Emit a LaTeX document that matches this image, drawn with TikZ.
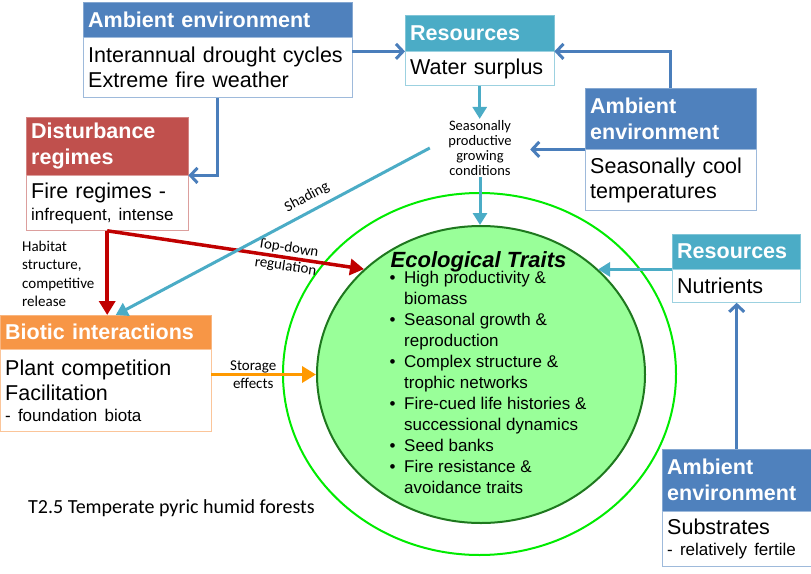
\documentclass[tikz,border=0pt]{standalone}
\usepackage{fontspec}
\setmainfont{Liberation Sans}
\newfontfamily\calfont{Carlito}
\usetikzlibrary{positioning,shapes.geometric,arrows.meta}
\definecolor{ambblue}{RGB}{79,129,189}
\definecolor{rescyan}{RGB}{75,172,198}
\definecolor{distred}{RGB}{192,80,77}
\definecolor{biotorange}{RGB}{247,150,70}
\definecolor{arrowblue}{RGB}{74,126,187}
\definecolor{arrowred}{RGB}{192,0,0}
\definecolor{arroworange}{RGB}{255,153,0}
\definecolor{traitfill}{RGB}{153,255,153}
\definecolor{traitline}{RGB}{30,120,30}
\definecolor{ringgreen}{RGB}{0,235,0}
\newcommand{\hdfont}{\fontsize{21.5}{26}\selectfont\bfseries}
\newcommand{\bdfont}{\fontsize{21.5}{25}\selectfont}
\newcommand{\smfont}{\fontsize{17}{21}\selectfont}
\newcommand{\lblfont}{\calfont\fontsize{15}{18.5}\selectfont}
\begin{document}
\begin{tikzpicture}[x=1pt, y=-1pt,
  hdr/.style={anchor=north west, fill=#1, draw=#1!70, text=white, font=\hdfont, align=left, inner xsep=5pt, inner ysep=0pt},
  bdy/.style={fill=white, draw=#1!55, font=\bdfont, align=left, inner xsep=5pt, inner ysep=0pt},
  lbl/.style={font=\lblfont, align=center, inner sep=1pt},
  blarrow/.style={draw=arrowblue, line width=3pt, -{Straight Barb[length=7pt,width=15pt]}},
  cyarrow/.style={draw=rescyan, line width=3pt, -{Triangle[length=12pt,width=14pt]}},
  redarrow/.style={draw=arrowred, line width=3.5pt, -{Triangle[length=14pt,width=16pt]}},
  orarrow/.style={draw=arroworange, line width=3.5pt, -{Triangle[length=14pt,width=16pt]}}]
  \useasboundingbox (0,0) rectangle (811,573);

  \node[ellipse, draw=ringgreen, line width=2pt, inner sep=0pt, minimum width=393pt, minimum height=362pt] (ring) at (479.5,374) {};
  \node[ellipse, draw=traitline, fill=traitfill, line width=2pt, inner sep=0pt, minimum width=328pt, minimum height=297pt] (eco) at (481,374.5) {};
  \node[anchor=base west, inner sep=0pt, font=\fontsize{22}{26}\selectfont\bfseries\itshape] (ecotitle) at (390.5,267) {Ecological Traits};
  \node[anchor=base west, inner sep=0pt, font=\smfont] (ecolist) at (389.5,283.3)
    {\begin{tabular}[t]{@{}p{14.5pt}@{}l@{}}
      • & High productivity \&\\ & biomass\\
      • & Seasonal growth \&\\ & reproduction\\
      • & Complex structure \&\\ & trophic networks\\
      • & Fire-cued life histories \&\\ & successional dynamics\\
      • & Seed banks\\
      • & Fire resistance \&\\ & avoidance traits
    \end{tabular}};

  \node[hdr=ambblue, text width=259pt, minimum height=35pt] (amb1h) at (83,2) {Ambient environment};
  \node[bdy=ambblue, text width=259pt, minimum height=60pt, below=0pt of amb1h] (amb1b) {Interannual drought cycles\\Extreme fire weather};

  \node[hdr=rescyan, text width=139pt, minimum height=36pt] (res1h) at (405,15) {Resources};
  \node[bdy=rescyan, text width=139pt, minimum height=34pt, below=0pt of res1h] (res1b) {Water surplus};

  \node[hdr=ambblue, text width=161pt, minimum height=61pt] (amb2h) at (585,88) {Ambient\\environment};
  \node[bdy=ambblue, text width=161pt, minimum height=61pt, below=0pt of amb2h] (amb2b) {Seasonally cool\\temperatures};

  \node[hdr=distred, text width=152pt, minimum height=58pt] (disth) at (26,117) {Disturbance\\regimes};
  \node[bdy=distred, text width=152pt, minimum height=55pt, below=0pt of disth] (distb) {Fire regimes -\\[-3pt]{\smfont infrequent, intense}};

  \node[hdr=biotorange, text width=201pt, minimum height=34pt] (biotich) at (0,315) {Biotic interactions};
  \node[bdy=biotorange, text width=201pt, minimum height=82pt, below=0pt of biotich] (biotb) {Plant competition\\Facilitation\\[-4pt]{\smfont - foundation biota}};

  \node[hdr=rescyan, text width=118pt, minimum height=35pt] (res2h) at (672,234) {Resources};
  \node[bdy=rescyan, text width=118pt, minimum height=33pt, below=0pt of res2h] (res2b) {Nutrients};

  \node[hdr=ambblue, text width=139pt, minimum height=62pt] (amb3h) at (662,449) {Ambient\\environment};
  \node[bdy=ambblue, text width=139pt, minimum height=55pt, below=0pt of amb3h] (amb3b) {Substrates\\[-4pt]{\smfont - relatively fertile}};

  \node[lbl, font=\calfont\fontsize{14.5}{15.2}\selectfont, minimum width=100pt] (cond) at (480,148) {Seasonally\\productive\\growing\\conditions};
  \node[lbl, anchor=west, align=left] (habitat) at (21,274) {Habitat\\structure,\\competitive\\release};
  \node[anchor=west, inner sep=0pt, font=\calfont\fontsize{20}{24}\selectfont] (title) at (28,508) {T2.5 Temperate pyric humid forests};

  \draw[blarrow] (amb1b.east |- res1h.south) -- (res1h.south west);
  \draw[blarrow] (amb2h.north) |- (res1h.south east);
  \draw[blarrow] (amb2h.south west) -- (amb2h.south west -| cond.east);
  \draw[blarrow] (amb1b.south) |- (disth.south east);
  \draw[blarrow] (amb3h.north) -- (amb3h.north |- res2b.south);
  \draw[redarrow] (distb.south) -- (distb.south |- biotich.north);
  \draw[redarrow] (distb.south) -- node[lbl, sloped, pos=0.7] {Top-down\\regulation} (eco.138);
  \draw[cyarrow] (res1b.south) -- (res1b.south |- cond.north);
  \draw[cyarrow] (cond.south) -- (cond.south |- eco.north);
  \draw[cyarrow] (res2h.south west) -- (res2h.south west -| eco.42.4);
  \draw[cyarrow] (cond.west) -- node[lbl, sloped, above=5pt, pos=0.37] {Shading} ([xshift=10pt]biotich.north);
  \draw[orarrow] (biotb.east |- eco.west) -- node[lbl, pos=0.4] {Storage\\effects} (eco.west);
\end{tikzpicture}
\end{document}
